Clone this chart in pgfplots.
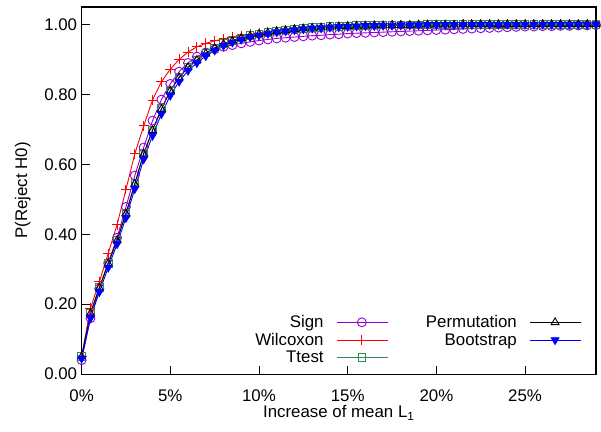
\documentclass[border=0pt]{standalone}
\usepackage{fontspec}
\setmainfont{Liberation Sans}
\usepackage{pgfplots}
\usepackage{pgfplotstable}
\pgfplotsset{compat=1.18}
\definecolor{gpsign}{HTML}{9400D3}
\definecolor{gpwil}{HTML}{FF0000}
\definecolor{gpt}{HTML}{2E8B57}
\definecolor{gpboot}{HTML}{0000FF}

% x in percent; columns: Sign, Wilcoxon, Ttest, Permutation, Bootstrap
\pgfplotstableread{
x    sign  wil   tt    perm  boot
0.0  0.040 0.050 0.050 0.050 0.045
0.5  0.160 0.188 0.175 0.174 0.160
1.0  0.245 0.264 0.248 0.247 0.235
1.5  0.318 0.345 0.317 0.316 0.305
2.0  0.390 0.427 0.384 0.383 0.372
2.5  0.478 0.528 0.460 0.459 0.447
3.0  0.568 0.630 0.545 0.544 0.530
3.5  0.648 0.710 0.631 0.630 0.615
4.0  0.725 0.784 0.698 0.697 0.682
4.5  0.785 0.836 0.759 0.758 0.744
5.0  0.830 0.872 0.811 0.810 0.797
5.5  0.865 0.900 0.849 0.848 0.837
6.0  0.890 0.921 0.878 0.877 0.868
6.5  0.908 0.936 0.899 0.898 0.890
7.0  0.920 0.946 0.918 0.917 0.910
7.5  0.929 0.953 0.933 0.932 0.926
8.0  0.936 0.959 0.945 0.944 0.939
8.5  0.941 0.964 0.954 0.953 0.949
9.0  0.946 0.968 0.962 0.961 0.957
9.5  0.950 0.972 0.968 0.967 0.964
10.0 0.954 0.975 0.973 0.972 0.969
10.5 0.957 0.978 0.977 0.976 0.974
11.0 0.960 0.981 0.981 0.980 0.978
11.5 0.962 0.984 0.984 0.983 0.981
12.0 0.964 0.986 0.987 0.986 0.984
12.5 0.966 0.988 0.989 0.988 0.987
13.0 0.968 0.990 0.991 0.990 0.989
13.5 0.969 0.991 0.992 0.991 0.990
14.0 0.971 0.993 0.994 0.993 0.992
14.5 0.972 0.994 0.995 0.994 0.993
15.0 0.974 0.995 0.996 0.995 0.994
15.5 0.975 0.996 0.997 0.996 0.995
16.0 0.976 0.996 0.997 0.996 0.996
16.5 0.977 0.997 0.998 0.997 0.996
17.0 0.978 0.997 0.998 0.997 0.997
17.5 0.979 0.998 0.999 0.998 0.997
18.0 0.980 0.998 0.999 0.998 0.998
18.5 0.981 0.998 0.999 0.998 0.998
19.0 0.982 0.999 0.999 0.999 0.998
19.5 0.983 0.999 1.000 0.999 0.999
20.0 0.984 0.999 1.000 0.999 0.999
20.5 0.985 0.999 1.000 0.999 0.999
21.0 0.986 0.999 1.000 0.999 0.999
21.5 0.987 1.000 1.000 1.000 0.999
22.0 0.988 1.000 1.000 1.000 0.999
22.5 0.989 1.000 1.000 1.000 1.000
23.0 0.990 1.000 1.000 1.000 1.000
23.5 0.991 1.000 1.000 1.000 1.000
24.0 0.992 1.000 1.000 1.000 1.000
24.5 0.993 1.000 1.000 1.000 1.000
25.0 0.994 1.000 1.000 1.000 1.000
25.5 0.994 1.000 1.000 1.000 1.000
26.0 0.995 1.000 1.000 1.000 1.000
26.5 0.995 1.000 1.000 1.000 1.000
27.0 0.996 1.000 1.000 1.000 1.000
27.5 0.996 1.000 1.000 1.000 1.000
28.0 0.997 1.000 1.000 1.000 1.000
28.5 0.997 1.000 1.000 1.000 1.000
29.0 0.998 1.000 1.000 1.000 1.000
}\powertable

\begin{document}
\begin{tikzpicture}
\path (-82bp,-58bp) rectangle (519bp,376bp);
\begin{axis}[
  scale only axis,
  width=517bp, height=369bp,
  xmin=0, xmax=29, ymin=0, ymax=1.05,
  xtick={0,5,...,25},
  ytick={0,0.2,...,1.0},
  xticklabel={\pgfmathprintnumber{\tick}\%},
  yticklabel style={/pgf/number format/fixed, /pgf/number format/fixed zerofill,
    /pgf/number format/precision=2, xshift=-1bp},
  /pgf/number format/assume math mode=true,
  tick pos=left, tick align=inside,
  major tick length=8bp,
  axis line style={line width=1.2bp},
  every tick/.style={black, line width=0.8bp},
  tick label style={font=\fontsize{17}{20}\selectfont},
  xticklabel style={yshift=-12bp},
  label style={font=\fontsize{17}{20}\selectfont},
  xlabel={Increase of mean L\textsubscript{1}},
  ylabel={P(Reject H0)},
  xlabel style={yshift=3bp},
  ylabel style={yshift=7bp},
  every axis plot/.append style={line width=0.9bp},
  legend columns=3, transpose legend,
  legend cell align=right,
  legend plot pos=right,
  legend style={draw=none, fill=none, at={(0.972,0.022)}, anchor=south east,
    font=\fontsize{17}{18}\selectfont, row sep=0bp, inner sep=0pt,
    /tikz/every odd column/.append style={column sep=11bp},
    /tikz/every even column/.append style={column sep=36bp}},
  legend image code/.code={
    \draw[mark repeat=2, mark phase=2, #1] plot coordinates {(0bp,0bp) (25bp,0bp) (51bp,0bp)};
  },
]
\addplot[color=gpsign, mark=o, mark size=4.5bp, mark options={line width=0.9bp, draw=gpsign}] table[x=x, y=sign] {\powertable};
\addlegendentry{Sign}
\addplot[color=gpwil, mark=+, mark size=5bp, mark options={line width=0.9bp, draw=gpwil}] table[x=x, y=wil] {\powertable};
\addlegendentry{Wilcoxon}
\addplot[color=gpt, mark=square, mark size=3.8bp, mark options={line width=0.9bp, draw=gpt}] table[x=x, y=tt] {\powertable};
\addlegendentry{Ttest}
\addplot[color=black, mark=triangle, mark size=4.5bp, mark options={line width=0.9bp, draw=black}] table[x=x, y=perm] {\powertable};
\addlegendentry{Permutation}
\addplot[color=gpboot, mark=triangle*, mark size=4.5bp, mark options={rotate=180, draw=gpboot, fill=gpboot}] table[x=x, y=boot] {\powertable};
\addlegendentry{Bootstrap}
\end{axis}
\end{tikzpicture}
\end{document}
